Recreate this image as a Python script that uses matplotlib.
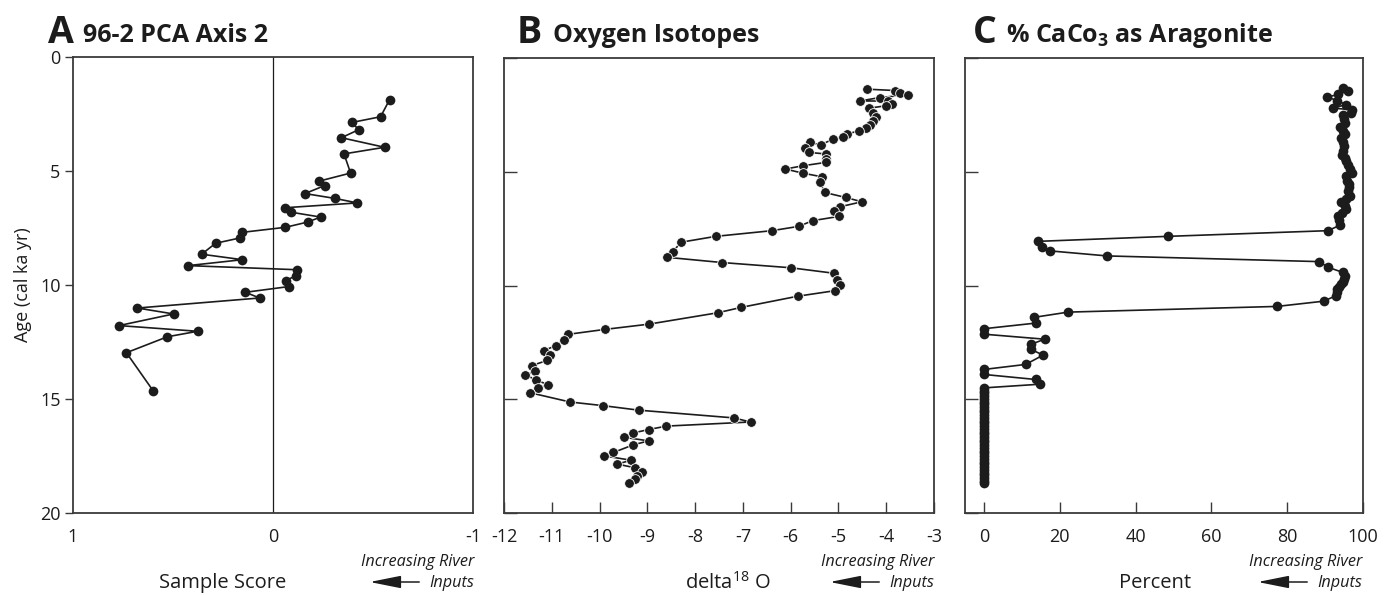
import matplotlib
matplotlib.use("Agg")
import matplotlib.pyplot as plt
from matplotlib.patches import FancyArrowPatch

# ---- data -------------------------------------------------------------
# Panel A: 96-2 PCA axis 2 sample scores
age_a = [1.87, 2.62, 2.87, 3.19, 3.54, 3.96, 4.25, 5.09, 5.45, 5.64,
         5.99, 6.20, 6.40, 6.61, 6.81, 7.02, 7.24, 7.47, 7.69, 7.94,
         8.17, 8.65, 8.89, 9.15, 9.33, 9.59, 9.81, 10.07, 10.32, 10.57,
         11.01, 11.27, 11.78, 12.03, 12.27, 12.97, 14.63]
score_a = [-0.583, -0.538, -0.395, -0.428, -0.342, -0.558, -0.355, -0.388, -0.228, -0.258,
           -0.160, -0.308, -0.422, -0.062, -0.092, -0.238, -0.173, -0.062, 0.153, 0.167,
           0.287, 0.357, 0.153, 0.425, -0.120, -0.115, -0.063, -0.078, 0.138, 0.067,
           0.678, 0.497, 0.770, 0.377, 0.528, 0.733, 0.600]

# Panel B: oxygen isotopes (delta 18O)
age_b = [1.37, 1.43, 1.55, 1.62, 1.74, 1.89, 1.89, 2.02, 2.10, 2.21,
         2.40, 2.59, 2.76, 2.94, 3.07, 3.20, 3.35, 3.46, 3.57, 3.82,
         3.71, 3.96, 4.15, 4.22, 4.44, 4.59, 4.74, 4.88, 5.06, 5.22,
         5.43, 5.91, 6.13, 6.32, 6.54, 6.74, 6.96, 7.15, 7.40, 7.59,
         7.84, 8.10, 8.51, 8.76, 8.99, 9.22, 9.46, 9.74, 9.97, 10.23,
         10.47, 10.96, 11.20, 11.70, 11.93, 12.15, 12.41, 12.65, 12.86, 13.07,
         13.29, 13.52, 13.76, 13.92, 14.17, 14.36, 14.50, 14.71, 15.12, 15.28,
         15.48, 15.82, 16.00, 16.18, 16.33, 16.48, 16.67, 16.83, 17.00, 17.34,
         17.49, 17.68, 17.85, 18.01, 18.19, 18.38, 18.51, 18.68]
d18o_b = [-4.41, -3.81, -3.72, -3.55, -4.14, -4.55, -3.97, -3.87, -4.01, -4.37,
          -4.28, -4.22, -4.27, -4.33, -4.43, -4.58, -4.82, -4.90, -5.12, -5.37,
          -5.59, -5.71, -5.62, -5.25, -5.25, -5.27, -5.75, -6.11, -5.75, -5.35,
          -5.39, -5.29, -4.85, -4.51, -4.97, -5.10, -4.98, -5.54, -5.83, -6.39,
          -7.57, -8.30, -8.46, -8.59, -7.44, -6.00, -5.10, -5.04, -4.97, -5.08,
          -5.85, -7.03, -7.53, -8.97, -9.89, -10.67, -10.75, -10.92, -11.17, -11.04,
          -11.09, -11.42, -11.35, -11.55, -11.32, -11.07, -11.28, -11.46, -10.62, -9.93,
          -9.18, -7.19, -6.84, -8.60, -8.97, -9.29, -9.49, -8.97, -9.29, -9.71,
          -9.90, -9.34, -9.63, -9.26, -9.11, -9.21, -9.26, -9.39]

# Panel C: % CaCO3 as aragonite
age_c = [1.33, 1.43, 1.60, 1.72, 1.87, 2.05, 2.20, 2.28, 2.40, 2.52,
         2.68, 2.85, 3.03, 3.20, 3.35, 3.52, 3.71, 3.88, 4.08, 4.25,
         4.40, 4.52, 4.70, 4.88, 5.04, 5.20, 5.39, 5.55, 5.69, 5.85,
         6.05, 6.20, 6.33, 6.50, 6.64, 6.80, 6.94, 7.10, 7.35, 7.59,
         7.84, 8.06, 8.32, 8.48, 8.70, 8.95, 9.20, 9.42, 9.58, 9.71,
         9.85, 9.93, 10.05, 10.15, 10.30, 10.44, 10.69, 10.92, 11.17, 11.40,
         11.65, 11.90, 12.14, 12.36, 12.58, 12.80, 13.06, 13.47, 13.69, 13.91,
         14.13, 14.34,
         14.50, 14.62, 14.74, 14.86, 14.98, 15.10, 15.22, 15.34, 15.46, 15.58, 15.70, 15.82,
         15.94, 16.06, 16.18, 16.30, 16.42, 16.54, 16.66, 16.78, 16.90, 17.02, 17.14, 17.26,
         17.38, 17.50, 17.62, 17.74, 17.86, 17.98, 18.10, 18.22, 18.34, 18.46, 18.58, 18.68]
arag_c = [94.7, 96.1, 93.5, 90.6, 93.2, 95.5, 92.1, 97.2, 96.8, 94.7,
          94.9, 95.3, 94.0, 94.6, 95.2, 94.3, 94.6, 95.0, 94.7, 94.4,
          95.2, 95.6, 96.0, 96.5, 97.0, 95.5, 95.8, 96.2, 96.3, 96.0,
          96.5, 95.6, 94.3, 95.2, 95.6, 94.5, 93.4, 93.6, 93.9, 90.8,
          48.5, 14.2, 15.4, 17.5, 32.5, 88.4, 90.8, 94.6, 95.2, 95.0,
          94.6, 94.3, 93.6, 93.2, 93.1, 93.0, 89.6, 77.3, 22.2, 13.2,
          13.8, 0.0, 0.0, 16.0, 12.5, 12.3, 15.6, 11.0, 0.0, 0.0,
          13.6, 14.7,
          0.0, 0.0, 0.0, 0.0, 0.0, 0.0, 0.0, 0.0, 0.0, 0.0, 0.0, 0.0,
          0.0, 0.0, 0.0, 0.0, 0.0, 0.0, 0.0, 0.0, 0.0, 0.0, 0.0, 0.0,
          0.0, 0.0, 0.0, 0.0, 0.0, 0.0, 0.0, 0.0, 0.0, 0.0, 0.0, 0.0]

age_ticks = [0, 5, 10, 15, 20]
ticks_a = [1, 0, -1]
ticks_b = [-12, -11, -10, -9, -8, -7, -6, -5, -4, -3]
ticks_c = [0, 20, 40, 60, 80, 100]

# ---- style ------------------------------------------------------------
FONT = "Open Sans"
plt.rcParams["font.family"] = [FONT, "DejaVu Sans"]
plt.rcParams["axes.unicode_minus"] = False
plt.rcParams["mathtext.fontset"] = "custom"
plt.rcParams["mathtext.rm"] = FONT
plt.rcParams["mathtext.bf"] = FONT + ":bold"
plt.rcParams["mathtext.it"] = FONT + ":italic"

INK = "#1c1c1c"
SPINE = "#3a3a3a"
W, H = 1396, 595

fig = plt.figure(figsize=(W / 100, H / 100), dpi=100)


def box(left, top, right, bottom):
    return [left / W, 1 - bottom / H, (right - left) / W, (bottom - top) / H]


def fx(x):
    return x / W


def fy(y):
    return 1 - y / H


axA = fig.add_axes(box(73, 57, 473, 513))
axB = fig.add_axes(box(504, 58, 934, 513))
axC = fig.add_axes(box(965, 58, 1363, 513))

for ax in (axA, axB, axC):
    for s in ax.spines.values():
        s.set_color(SPINE)
        s.set_linewidth(1.3)
    ax.set_ylim(20, 0)
    ax.set_yticks(age_ticks)
    ax.tick_params(labelsize=13, colors=INK)

line_kw = dict(color=INK, lw=1.2, marker="o", ms=7.0, mfc=INK, zorder=3)

# A: PCA axis 2
axA.axvline(0, color=INK, lw=0.9, zorder=1)
axA.plot(score_a, age_a, mec=INK, mew=0, **line_kw)
axA.set_xlim(1, -1)
axA.set_xticks(ticks_a)
axA.set_xticklabels([str(t) for t in ticks_a])
axA.tick_params(axis="x", length=0, pad=11)
axA.tick_params(axis="y", direction="out", length=6, width=1, color=SPINE, pad=3)
axA.set_ylabel("Age (cal ka yr)", fontsize=13, color=INK, labelpad=6)

# B: oxygen isotopes
axB.plot(d18o_b, age_b, mec="white", mew=0.6, **line_kw)
axB.set_xlim(-12, -3)
axB.set_xticks(ticks_b)
axB.tick_params(axis="x", direction="in", length=8, width=1, color=SPINE, pad=11)
axB.tick_params(axis="y", direction="in", length=9, width=1, color=SPINE,
                labelleft=False)

# C: aragonite
axC.plot(arag_c, age_c, mec=INK, mew=0, **line_kw)
axC.set_xlim(-5, 100)
axC.set_xticks(ticks_c)
axC.tick_params(axis="x", direction="in", length=8, width=1, color=SPINE, pad=11)
axC.tick_params(axis="y", direction="in", length=9, width=1, color=SPINE,
                labelleft=False)

# ---- panel titles -----------------------------------------------------
titles = [(48, "A", 83, "96-2 PCA Axis 2"),
          (517, "B", 553, "Oxygen Isotopes"),
          (973, "C", 1006, r"% CaCo$_\mathbf{3}$ as Aragonite")]
for xl, letter, xt, text in titles:
    fig.text(fx(xl), fy(43), letter, fontsize=27, fontweight="bold",
             color=INK, ha="left", va="baseline")
    fig.text(fx(xt), fy(42), text, fontsize=18, fontweight="bold",
             color=INK, ha="left", va="baseline")

# ---- axis titles and river-input notes --------------------------------
xlabels = [(223, "Sample Score"), (728, r"delta$^{18}$ O"), (1155, "Percent")]
for xc, text in xlabels:
    fig.text(fx(xc), fy(583), text, fontsize=14.5, color=INK,
             ha="center", va="center")

for right in (474, 934, 1362):
    fig.text(fx(right), fy(562), "Increasing River", fontsize=11.7,
             style="italic", color=INK, ha="right", va="center")
    fig.text(fx(right), fy(583), "Inputs", fontsize=11.7,
             style="italic", color=INK, ha="right", va="center")
    fig.add_artist(FancyArrowPatch(
        (fx(right - 52), fy(582)), (fx(right - 107), fy(582)),
        transform=fig.transFigure,
        arrowstyle="-|>,head_length=1.6,head_width=0.32",
        color=INK, lw=1.1, mutation_scale=12))

fig.savefig("out.png", dpi=100, facecolor="white")
